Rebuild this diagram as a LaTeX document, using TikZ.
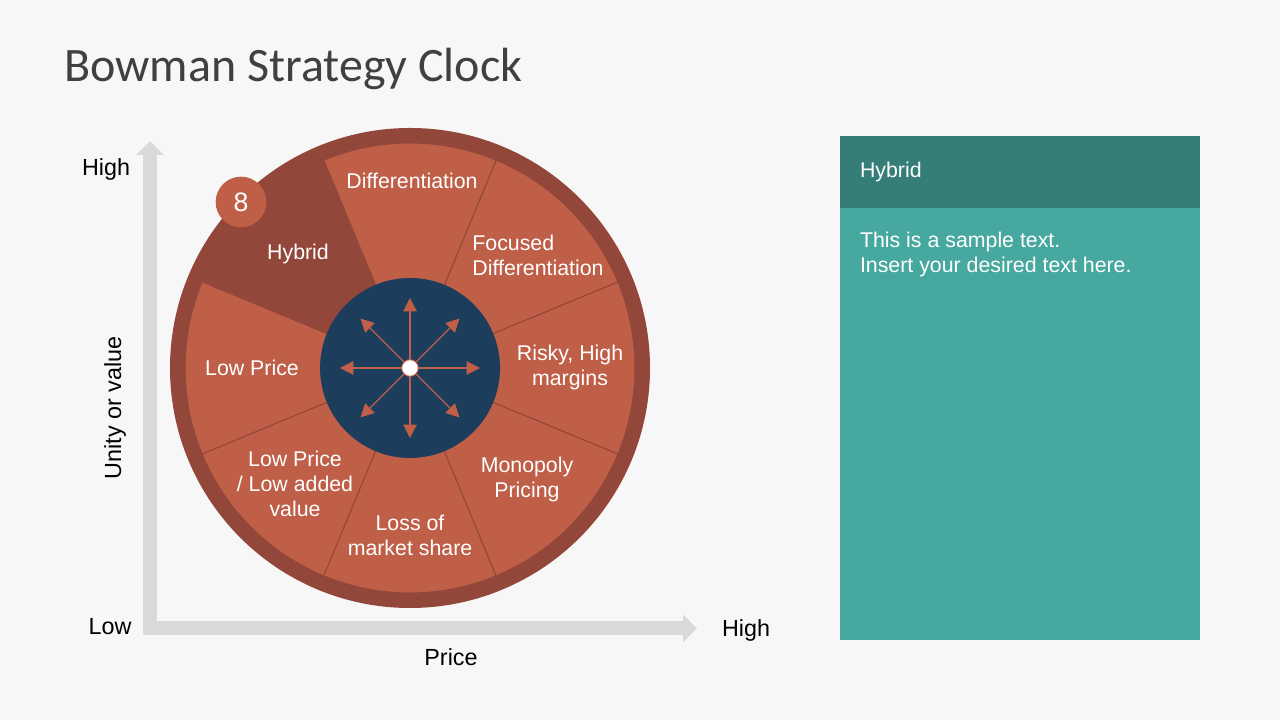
\documentclass[tikz,border=0pt]{standalone}
\usepackage{fontspec}
\setmainfont{Liberation Sans}
\newfontfamily\titlefont{Carlito}
\usepackage{tikz}
\usetikzlibrary{arrows.meta}
\usetikzlibrary{positioning}
\definecolor{pagebg}{HTML}{F7F7F7}
\definecolor{ringred}{HTML}{93473A}
\definecolor{slicered}{HTML}{BF5F48}
\definecolor{faceblue}{HTML}{1C3D5C}
\definecolor{axisgray}{HTML}{D9D9D9}
\definecolor{headteal}{HTML}{347E77}
\definecolor{bodyteal}{HTML}{46A89E}
\definecolor{titlegray}{HTML}{404040}
\tikzset{
  slice/.style={fill=slicered, draw=ringred, line width=0.75pt},
  spoke/.style={draw=slicered, line width=0.9pt, -{Triangle[length=10pt,width=10pt]}},
  wlabel/.style={text=white, font=\fontsize{16}{18.75}\selectfont, align=center},
  axislabel/.style={text=black, font=\fontsize{17.5}{21}\selectfont},
  axisline/.style={draw=axisgray, line width=10.5pt, line join=miter,
    {Triangle[length=10.5pt,width=20pt]}-{Triangle[length=10.5pt,width=20pt]}},
  panelbox/.style={outer sep=0pt, text=white, font=\fontsize{16}{18.75}\selectfont, align=left}
}
\newcommand{\clockslice}[1]{\filldraw[slice] (ctr) -- ++(#1:168.75pt) arc[start angle=#1, end angle={#1+45}, radius=168.75pt] -- cycle}
\newcommand{\spoke}[2]{\path (ctr) ++(#2:52.5pt) coordinate (#1); \draw[spoke] (hub) -- (#1)}

\begin{document}
\begin{tikzpicture}[x=0.75pt, y=0.75pt]
    \useasboundingbox[fill=pagebg] (0,0) rectangle (1280,720);
    \node[anchor=base west, inner sep=0pt, text=titlegray, font=\titlefont\fontsize{36}{43}\selectfont] (title) at (64,638) {Bowman Strategy Clock};
    \coordinate (ytop) at (150,579);
    \coordinate (origin) at (150,91.5);
    \coordinate (xend) at (697,91.5);
    \draw[axisline] (ytop) -- (origin) -- (xend);
    \node[axislabel] (yhigh) at (106,551) {High};
    \node[axislabel] (ylow) at (110,93) {Low};
    \node[axislabel] (xname) at (451,63) {Price};
    \node[axislabel] (xhigh) at (746,90) {High};
    \node[axislabel, rotate=90] (yname) at (115,312) {Unity or value};
    \coordinate (ctr) at (410,352);
    \fill[ringred] (ctr) circle[radius=180pt];
    \clockslice{-22.5};
    \clockslice{22.5};
    \clockslice{67.5};
    \clockslice{157.5};
    \clockslice{202.5};
    \clockslice{247.5};
    \clockslice{292.5};
    \node[circle, fill=faceblue, minimum size=135pt, inner sep=0pt] (face) at (ctr) {};
    \node[circle, fill=white, draw=slicered, line width=0.75pt, minimum size=12.5pt, inner sep=0pt] (hub) at (ctr) {};
    \spoke{e}{0};
    \spoke{ne}{45};
    \spoke{n}{90};
    \spoke{nw}{135};
    \spoke{w}{180};
    \spoke{sw}{225};
    \spoke{s}{270};
    \spoke{se}{315};
    \node[circle, fill=slicered, minimum size=38pt, inner sep=0pt, text=white, font=\fontsize{20}{24}\selectfont] (badge) at (241,518) {8};
    \node[wlabel] (diff) at (412,539) {Differentiation};
    \node[wlabel, align=left] (focus) at (538,465) {Focused\\Differentiation};
    \node[wlabel] (risky) at (570,352.5) {Risky, High\\margins};
    \node[wlabel] (mono) at (527,240.5) {Monopoly\\Pricing};
    \node[wlabel] (loss) at (410,185) {Loss of\\market share};
    \node[wlabel] (lowadd) at (295,236) {Low Price\\/ Low added\\value};
    \node[wlabel] (lowprice) at (252,352) {Low Price};
    \node[wlabel] (hybrid) at (298,466) {Hybrid};
    \node[panelbox, fill=headteal, text width=240pt, inner xsep=15pt, minimum height=54pt, anchor=north west] (head) at (840,584) {Hybrid};
    \node[panelbox, fill=bodyteal, minimum width=270pt, minimum height=324pt, inner sep=0pt, below=0pt of head] (body) {};
    \node[panelbox, inner xsep=15pt, inner ysep=18pt, anchor=north west] (bodytext) at (body.north west) {This is a sample text.\\Insert your desired text here.};
\end{tikzpicture}
\end{document}
